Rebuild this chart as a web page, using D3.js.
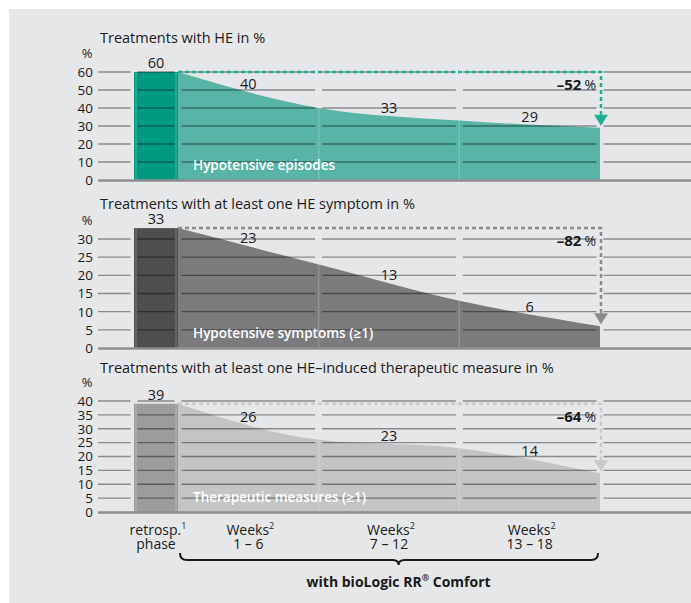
<!DOCTYPE html>
<html>
<head>
<meta charset="utf-8">
<script src="https://cdn.jsdelivr.net/npm/d3@7"></script>
<style>
  html, body { margin: 0; padding: 0; background: #fff; }
  svg { display: block; font-family: "Open Sans", "DejaVu Sans", sans-serif; }
</style>
</head>
<body>
<svg id="chart" width="691" height="603"></svg>
<script>
// values
const stageTop = ["retrosp.", "Weeks", "Weeks", "Weeks"];
const stageSup = ["1", "2", "2", "2"];
const stageBottom = ["phase", "1 – 6", "7 – 12", "13 – 18"];

const episodes = [60, 40, 33, 29];
const symptoms = [33, 23, 13, 6];
const measures = [39, 26, 23, 14];

const panelTitles = [
    "Treatments with HE in %",
    "Treatments with at least one HE symptom in %",
    "Treatments with at least one HE–induced therapeutic measure in %"
];
const areaLabels = ["Hypotensive episodes", "Hypotensive symptoms (≥1)", "Therapeutic measures (≥1)"];
const reductions = ["–52", "–82", "–64"];

const ticksEpisodes = [0, 10, 20, 30, 40, 50, 60];
const ticksSymptoms = [0, 5, 10, 15, 20, 25, 30];
const ticksMeasures = [0, 5, 10, 15, 20, 25, 30, 35, 40];

const brandLabel = "with bioLogic RR";

// layout / styling
const panels = [
    {values: episodes, ticks: ticksEpisodes, zero: 180, top: 72, bar: "#009b7f", area: "#57b4a6", dash: "#20ae93"},
    {values: symptoms, ticks: ticksSymptoms, zero: 348, top: 239, bar: "#4e4e50", area: "#7b7b7d", dash: "#8b8b8d"},
    {values: measures, ticks: ticksMeasures, zero: 512, top: 401, bar: "#9c9c9e", area: "#c4c4c6", dash: "#c9c9cb"}
];
const titleY = [43, 209, 373];

const svg = d3.select("#chart");
svg.append("rect").attr("x", 9).attr("y", 9).attr("width", 682).attr("height", 594).attr("fill", "#e6e7e9");

const x = d3.scaleLinear().domain([0, 3]).range([178, 600]);
const barW = 44;
const arrowX = 601;

function yAtX(node, px) {
    let lo = 0, hi = node.getTotalLength();
    for (let k = 0; k < 40; k++) {
        const mid = (lo + hi) / 2;
        if (node.getPointAtLength(mid).x < px) lo = mid; else hi = mid;
    }
    return node.getPointAtLength(lo).y;
}

panels.forEach((p, pi) => {
    const vals = p.values;
    const maxTick = p.ticks[p.ticks.length - 1];
    const y = d3.scaleLinear().domain([0, maxTick]).range([p.zero, p.top]);
    const g = svg.append("g");

    g.append("text").attr("x", 100).attr("y", titleY[pi]).attr("font-size", 14.5).attr("fill", "#1a1a1a").text(panelTitles[pi]);
    g.append("text").attr("x", 87).attr("y", y(maxTick) - 14).attr("text-anchor", "middle").attr("font-size", 13).attr("fill", "#1a1a1a").text("%");

    // retrospective bar
    g.append("rect").attr("x", x(0) - barW).attr("y", y(vals[0])).attr("width", barW).attr("height", p.zero - y(vals[0])).attr("fill", p.bar);

    // area for weeks
    const area = d3.area().x((d, i) => x(i)).y0(p.zero).y1(d => y(d)).curve(d3.curveMonotoneX);
    const line = d3.line().x((d, i) => x(i)).y(d => y(d)).curve(d3.curveMonotoneX);
    g.append("path").datum(vals).attr("d", area).attr("fill", p.area);
    const edge = g.append("path").datum(vals).attr("d", line).attr("fill", "none").attr("stroke", "none");

    // light column separators
    [x(0) - barW + 2, x(0) - 2, x(1), x(2)].forEach(px => {
        const top = px < x(0) ? y(vals[0]) : yAtX(edge.node(), px);
        g.append("line").attr("x1", px).attr("x2", px).attr("y1", top).attr("y2", p.zero)
            .attr("stroke", "#fff").attr("stroke-opacity", 0.18).attr("stroke-width", 1.5);
    });

    // broken gridlines
    const edges = [98, x(0) - barW, x(0), x(1), x(2), x(3), 691];
    const pad = 3.5;
    p.ticks.filter(t => t > 0).forEach(t => {
        for (let s = 0; s < edges.length - 1; s++) {
            const a = s === 0 ? edges[s] : edges[s] + pad;
            const b = s === edges.length - 2 ? edges[s + 1] : edges[s + 1] - pad;
            g.append("line").attr("x1", a).attr("x2", b).attr("y1", y(t)).attr("y2", y(t))
                .attr("stroke", "#000").attr("stroke-opacity", 0.4).attr("stroke-width", 1.3);
        }
    });
    g.append("line").attr("x1", 98).attr("x2", 691).attr("y1", p.zero + 0.5).attr("y2", p.zero + 0.5)
        .attr("stroke", "#8e8e90").attr("stroke-width", 2.5);

    // y tick labels
    g.selectAll(".tick").data(p.ticks).enter().append("text")
        .attr("x", 93).attr("y", d => y(d)).attr("dy", "0.36em").attr("text-anchor", "end")
        .attr("font-size", 13.5).attr("fill", "#1a1a1a").text(d => d);

    // value labels
    g.append("text").attr("x", x(0) - barW / 2).attr("y", y(vals[0]) - 4).attr("text-anchor", "middle")
        .attr("font-size", 14.5).attr("fill", "#1a1a1a").text(vals[0]);
    vals.slice(1).forEach((v, i) => {
        const cx = x(i + 0.5);
        g.append("text").attr("x", cx).attr("y", yAtX(edge.node(), cx) - 3).attr("text-anchor", "middle")
            .attr("font-size", 14.5).attr("fill", "#1a1a1a").text(v);
    });

    g.append("text").attr("x", 193).attr("y", p.zero - 10).attr("font-size", 13.5).attr("font-weight", 600)
        .attr("fill", "#fff").text(areaLabels[pi]);

    // reduction arrow
    const dashY = y(vals[0]);
    const tipY = y(vals[vals.length - 1]) - 2;
    g.append("path").attr("d", `M${x(0)},${dashY}H${arrowX}V${tipY - 11}`)
        .attr("fill", "none").attr("stroke", p.dash).attr("stroke-width", 2.5).attr("stroke-dasharray", "4,3");
    g.append("path").attr("d", `M${arrowX - 7},${tipY - 11}L${arrowX + 7},${tipY - 11}L${arrowX},${tipY}Z`).attr("fill", p.dash);

    const red = g.append("text").attr("x", 596).attr("y", dashY + 18).attr("text-anchor", "end").attr("fill", "#1a1a1a");
    red.append("tspan").attr("font-size", 15).attr("font-weight", 700).text(reductions[pi]);
    red.append("tspan").attr("font-size", 14).attr("dx", 3).text("%");
});

// x labels: two lines in one text element
const labelX = [x(0) - barW / 2, x(0.5), x(1.5), x(2.5)];
stageTop.forEach((s, i) => {
    const t = svg.append("text").attr("y", 535).attr("text-anchor", "middle")
        .attr("font-size", 14).attr("fill", "#1a1a1a");
    const l1 = t.append("tspan").attr("x", labelX[i] + 2);
    l1.append("tspan").text(s);
    l1.append("tspan").attr("font-size", 9).attr("dy", -6).text(stageSup[i]);
    t.append("tspan").attr("x", labelX[i]).attr("y", 549).text(stageBottom[i]);
});

// brace under the weeks (its tip sits a little right of centre, as in the original)
const bx0 = x(0) + 2, bx1 = x(3) - 2, bm = bx0 + (bx1 - bx0) * 0.523, by = 553;
svg.append("path")
    .attr("d", `M${bx0},${by}Q${bx0},${by + 7} ${bx0 + 7},${by + 7}H${bm - 6}Q${bm},${by + 7} ${bm},${by + 12}` +
               `Q${bm},${by + 7} ${bm + 6},${by + 7}H${bx1 - 7}Q${bx1},${by + 7} ${bx1},${by}`)
    .attr("fill", "none").attr("stroke", "#1a1a1a").attr("stroke-width", 2);

const brand = svg.append("text").attr("x", bm).attr("y", 587).attr("text-anchor", "middle")
    .attr("font-size", 14).attr("font-weight", 700).attr("fill", "#1a1a1a");
brand.append("tspan").text(brandLabel);
brand.append("tspan").attr("font-size", 9).attr("dy", -6).text("®");
brand.append("tspan").attr("dy", 6).text(" Comfort");
</script>
</body>
</html>
